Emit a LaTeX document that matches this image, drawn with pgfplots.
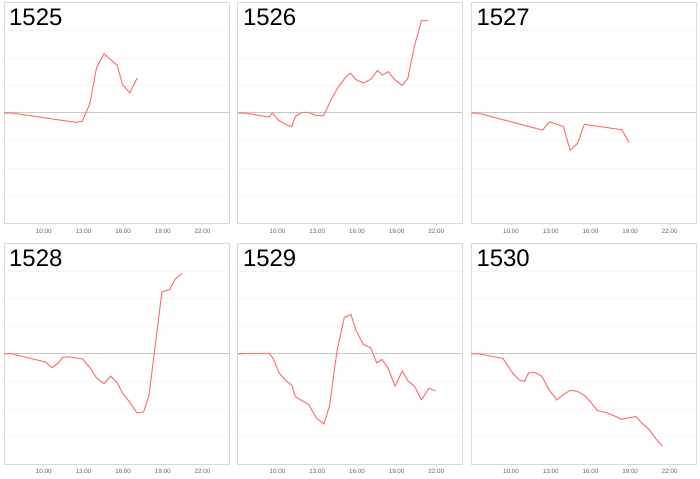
\documentclass[border=0pt]{standalone}
\usepackage{fontspec}
\setmainfont{Liberation Sans}
\usepackage{pgfplots}
\pgfplotsset{compat=1.18}
\definecolor{linered}{RGB}{255,120,120}
\definecolor{framec}{RGB}{217,217,217}
\definecolor{gridc}{RGB}{245,245,245}
\definecolor{zeroc}{RGB}{200,200,200}
\definecolor{tickc}{RGB}{100,100,100}
\pgfplotsset{panel/.style={
  scale only axis, width=225bp, height=220.5bp, anchor=south west,
  xmin=7, xmax=24, ymin=-4, ymax=4,
  xtick={10,13,16,19,22}, xticklabels={10:00,13:00,16:00,19:00,22:00},
  ytick={-3,-2,-1,1,2,3}, yticklabels={}, ymajorgrids,
  ytick style={draw=none},
  grid style={gridc, line width=0.6bp},
  extra y ticks={0}, extra y tick labels={},
  extra y tick style={grid style={zeroc, line width=1bp}, ytick style={draw=none}},
  axis line style={framec, line width=0.9bp},
  xtick style={framec, line width=0.5bp}, tick align=outside, major tick length=2bp,
  xtick pos=left,
  xticklabel style={font=\fontsize{6.3}{7}\selectfont, text=tickc},
}, redline/.style={linered, line width=1.1bp, line join=round, mark=none}}
\newcommand{\paneltitle}[1]{\node[anchor=north west, inner sep=0pt, font=\fontsize{24}{28}\selectfont] at (rel axis cs:0,1) [xshift=5bp,yshift=-6bp] {#1};}
\begin{document}
\begin{tikzpicture}
\begin{axis}[panel, at={(4bp,255.75bp)}]
\addplot[redline] coordinates {(7,0) (7.6,0) (12.43,-0.34) (12.91,-0.30) (13.49,0.34) (13.99,1.64) (14.55,2.15) (15.55,1.73) (15.95,1.03) (16.51,0.73) (17.06,1.27)};
\paneltitle{1525}
\end{axis}
\begin{axis}[panel, at={(237.8bp,255.75bp)}]
\addplot[redline] coordinates {(7,0) (7.55,0) (9.375,-0.15) (9.6,0) (10.1,-0.27) (10.68,-0.43) (11.08,-0.49) (11.35,-0.12) (11.85,0.02) (12.35,0.02) (12.93,-0.09) (13.48,-0.1) (14.05,0.49) (14.55,0.91) (15.05,1.24) (15.5,1.45) (15.93,1.21) (16.48,1.09) (17.05,1.22) (17.55,1.54) (17.93,1.37) (18.35,1.5) (18.88,1.2) (19.43,1.0) (19.85,1.26) (20.35,2.44) (20.88,3.35) (21.38,3.35)};
\paneltitle{1526}
\end{axis}
\begin{axis}[panel, at={(471.3bp,255.75bp)}]
\addplot[redline] coordinates {(7,0) (7.48,0) (12.38,-0.62) (12.9,-0.32) (13.96,-0.49) (14.46,-1.35) (15.02,-1.11) (15.54,-0.41) (18.38,-0.61) (18.93,-1.08)};
\paneltitle{1527}
\end{axis}
\begin{axis}[panel, at={(4bp,15bp)}]
\addplot[redline] coordinates {(7,0) (7.58,0) (10.14,-0.3) (10.64,-0.51) (11.1,-0.34) (11.42,-0.13) (11.85,-0.11) (12.93,-0.19) (13.48,-0.5) (13.98,-0.87) (14.56,-1.09) (15.07,-0.81) (15.54,-1.04) (15.99,-1.45) (16.5,-1.76) (17.05,-2.15) (17.55,-2.11) (17.95,-1.52) (18.93,2.24) (19.51,2.33) (19.96,2.73) (20.44,2.91)};
\paneltitle{1528}
\end{axis}
\begin{axis}[panel, at={(237.8bp,15bp)}]
\addplot[redline] coordinates {(7,0) (9.38,0.01) (9.68,-0.18) (10.13,-0.7) (10.68,-1.0) (11.08,-1.14) (11.35,-1.56) (11.85,-1.7) (12.35,-1.84) (12.93,-2.33) (13.5,-2.55) (13.93,-1.9) (14.5,0.12) (15.05,1.32) (15.55,1.42) (15.93,0.85) (16.48,0.34) (17.05,0.21) (17.5,-0.33) (17.88,-0.21) (18.35,-0.51) (18.88,-1.18) (19.43,-0.62) (19.85,-0.98) (20.35,-1.18) (20.88,-1.67) (21.43,-1.25) (21.93,-1.35)};
\paneltitle{1529}
\end{axis}
\begin{axis}[panel, at={(471.3bp,15bp)}]
\addplot[redline] coordinates {(7,0) (7.55,0) (8.18,-0.06) (9.39,-0.17) (10.12,-0.7) (10.62,-0.95) (11.02,-1.0) (11.32,-0.7) (11.82,-0.68) (12.33,-0.82) (12.88,-1.31) (13.46,-1.68) (13.96,-1.48) (14.46,-1.33) (15.02,-1.36) (15.59,-1.53) (16.05,-1.77) (16.52,-2.06) (17.15,-2.13) (17.78,-2.25) (18.36,-2.38) (18.93,-2.32) (19.44,-2.28) (19.91,-2.53) (20.42,-2.74) (20.94,-3.08) (21.45,-3.36)};
\paneltitle{1530}
\end{axis}
\pgfresetboundingbox
\useasboundingbox (0,0) rectangle (700bp,479bp);
\end{tikzpicture}
\end{document}
